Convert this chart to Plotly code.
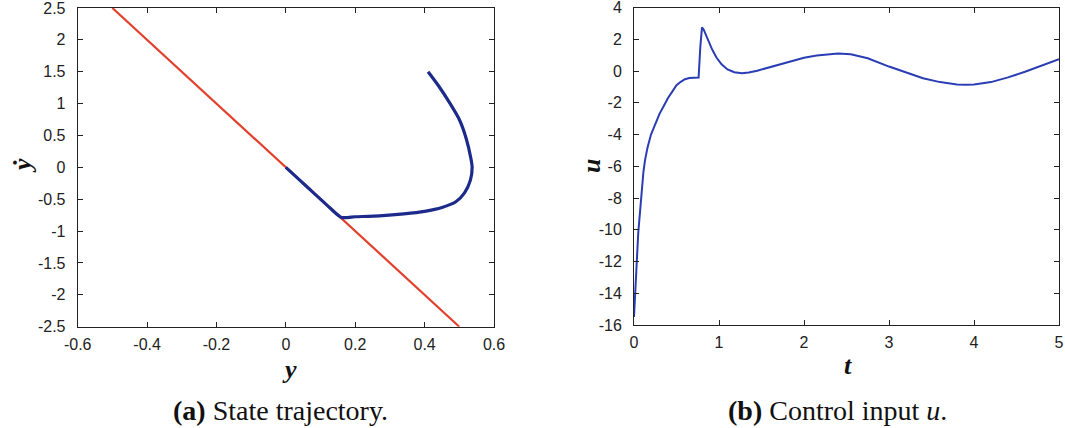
import plotly.graph_objects as go

# ---- Data: (a) state trajectory ----
traj_y = [0.41, 0.44, 0.47, 0.50, 0.52, 0.533, 0.537, 0.532, 0.515, 0.49, 0.45, 0.40, 0.34, 0.27, 0.20, 0.16,
          0.12, 0.08, 0.04, 0.0]
traj_ydot = [1.5, 1.28, 1.03, 0.75, 0.45, 0.15, 0.0, -0.2, -0.4, -0.54, -0.63, -0.69, -0.73, -0.76, -0.775, -0.785,
             -0.6, -0.4, -0.2, 0.0]
line_y = [-0.5, 0.5]
line_ydot = [2.5, -2.5]

# ---- Data: (b) control input ----
t_vals = [0, 0.01, 0.03, 0.05, 0.08, 0.11, 0.13, 0.16, 0.2, 0.24, 0.3, 0.35, 0.4, 0.45, 0.5, 0.55, 0.6, 0.65,
          0.7, 0.76, 0.78, 0.8, 0.82, 0.85, 0.88, 0.92, 0.97, 1.03, 1.1, 1.18, 1.27, 1.35, 1.45, 1.55, 1.7,
          1.85, 2.0, 2.15, 2.3, 2.4, 2.55, 2.75, 3.0, 3.2, 3.4, 3.6, 3.8, 3.9, 4.0, 4.2, 4.4, 4.6, 4.8, 5.0]
u_vals = [-15.5, -14.0, -12.3, -10.2, -8.1, -6.4, -5.6, -4.8, -4.0, -3.5, -2.7, -2.2, -1.7, -1.3, -0.9, -0.68,
          -0.52, -0.44, -0.42, -0.41, 1.5, 2.75, 2.6, 2.2, 1.8, 1.35, 0.85, 0.42, 0.1, -0.08, -0.14, -0.1, 0.02,
          0.17, 0.4, 0.62, 0.83, 0.98, 1.08, 1.1, 1.05, 0.8, 0.28, -0.1, -0.46, -0.7, -0.85, -0.87, -0.85, -0.7,
          -0.4, -0.05, 0.35, 0.74]

W, H = 1065, 428
TICKFONT = dict(family="Liberation Sans, Arial, sans-serif", size=16, color="#222")
SERIF = "Liberation Serif, Times New Roman, serif"

fig = go.Figure()
fig.add_trace(go.Scatter(x=line_y, y=line_ydot, mode="lines", line=dict(color="#e2402c", width=2.2),
                         xaxis="x", yaxis="y", showlegend=False, hoverinfo="skip"))
fig.add_trace(go.Scatter(x=traj_y, y=traj_ydot, mode="lines",
                         line=dict(color="#1c2a8c", width=3.2, shape="spline", smoothing=0.6),
                         xaxis="x", yaxis="y", showlegend=False))
fig.add_trace(go.Scatter(x=t_vals, y=u_vals, mode="lines", line=dict(color="#2a3db5", width=2),
                         xaxis="x2", yaxis="y2", showlegend=False))

axis_common = dict(showline=True, linecolor="#222", linewidth=1, mirror="ticks", ticks="inside", ticklen=5,
                   tickcolor="#222", showgrid=False, zeroline=False, tickfont=TICKFONT, automargin=False,
                   ticklabeloverflow="allow")

fig.update_layout(
    width=W, height=H, margin=dict(l=0, r=0, t=0, b=0, autoexpand=False),
    paper_bgcolor="white", plot_bgcolor="white",
    xaxis=dict(domain=[77.7 / W, 494 / W], range=[-0.6, 0.6], tickvals=[-0.6, -0.4, -0.2, 0, 0.2, 0.4, 0.6],
               ticktext=["-0.6", "-0.4", "-0.2", "0", "0.2", "0.4", "0.6"], anchor="y",
               ticklabelstandoff=3, **axis_common),
    yaxis=dict(domain=[1 - 326.7 / H, 1 - 8 / H], range=[-2.5, 2.5],
               tickvals=[-2.5, -2, -1.5, -1, -0.5, 0, 0.5, 1, 1.5, 2, 2.5],
               ticktext=["-2.5", "-2", "-1.5", "-1", "-0.5", "0", "0.5", "1", "1.5", "2", "2.5"],
               anchor="x", ticklabelstandoff=8, **axis_common),
    xaxis2=dict(domain=[634 / W, 1059 / W], range=[0, 5], tickvals=[0, 1, 2, 3, 4, 5], anchor="y2",
                ticklabelstandoff=3, **axis_common),
    yaxis2=dict(domain=[1 - 325 / H, 1 - 7.5 / H], range=[-16, 4], tickvals=list(range(-16, 5, 2)),
                ticktext=[str(v) for v in range(-16, 5, 2)], anchor="x2", ticklabelstandoff=8, **axis_common),
)

def ann(text, x, y, size, angle=0, family=SERIF):
    fig.add_annotation(text=text, x=x / W, y=1 - y / H, xref="paper", yref="paper", showarrow=False,
                       font=dict(family=family, size=size, color="#111"), textangle=angle,
                       xanchor="center", yanchor="middle")

ann("<b><i>ẏ</i></b>", 22, 166, 26, angle=-90)
ann("<b><i>y</i></b>", 289, 369, 26)
ann("<b><i>u</i></b>", 591, 166, 26, angle=-90)
ann("<b><i>t</i></b>", 848, 365, 26)
ann("<b>(a)</b> State trajectory.", 280, 410, 28)
ann("<b>(b)</b> Control input <i>u</i>.", 837, 410, 28)

fig.write_html("out.html", config={"displayModeBar": False},
               post_script="document.body.style.margin='0';document.body.style.overflow='hidden';")
